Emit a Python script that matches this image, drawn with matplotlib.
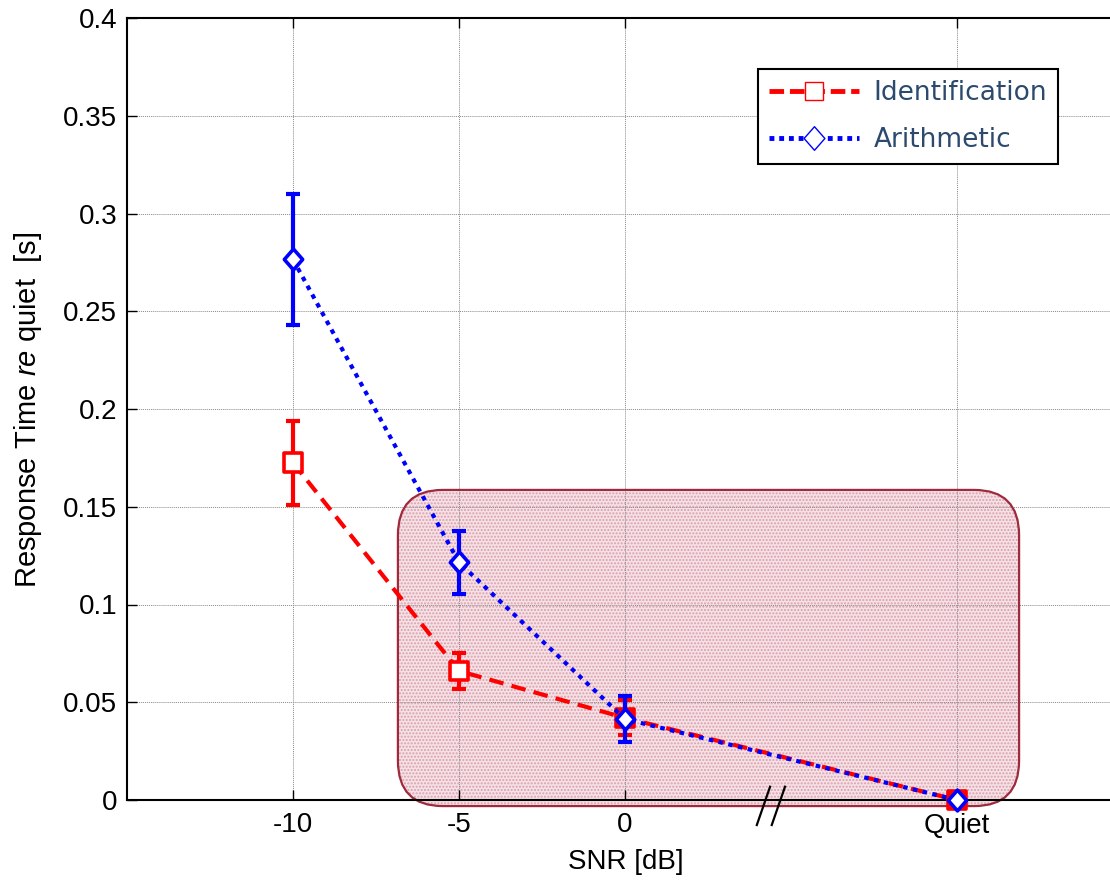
import matplotlib
matplotlib.use('Agg')
import matplotlib.pyplot as plt
import numpy as np
from matplotlib.patches import FancyBboxPatch
from matplotlib.lines import Line2D
from matplotlib.path import Path

# ---------------- data ----------------
snr_pos = [-10, -5, 0, 10]
snr_labels = ['-10', '-5', '0', 'Quiet']
ident_mean = [0.1725, 0.066, 0.042, 0.0]
ident_err = [0.0215, 0.009, 0.009, 0.0]
arith_mean = [0.2765, 0.1215, 0.0414, 0.0]
arith_err = [0.0335, 0.016, 0.0118, 0.0]
ytick_vals = [0, 0.05, 0.1, 0.15, 0.2, 0.25, 0.3, 0.35, 0.4]
ytick_labels = ['0', '0.05', '0.1', '0.15', '0.2', '0.25', '0.3', '0.35', '0.4']
series_names = ['Identification', 'Arithmetic']
ident_fill = ['white', 'white', 'red', 'red']

# ---------------- style ----------------
plt.rcParams['font.family'] = ['Liberation Sans', 'DejaVu Sans']
plt.rcParams['mathtext.fontset'] = 'custom'
plt.rcParams['mathtext.rm'] = 'Liberation Sans'
plt.rcParams['mathtext.it'] = 'Liberation Sans:italic'
plt.rcParams['hatch.linewidth'] = 1.0

W, H = 1110, 882
fig = plt.figure(figsize=(W / 100, H / 100), dpi=100)
ax = fig.add_axes([127 / W, 82 / H, 996 / W, 782 / H])
ax.set_xlim(-15, 15)
ax.set_ylim(0, 0.4)

ax.set_xticks(snr_pos)
ax.set_xticklabels(snr_labels)
ax.set_yticks(ytick_vals)
ax.set_yticklabels(ytick_labels)
ax.tick_params(direction='in', length=7, width=1.0, labelsize=20, pad=7,
               top=True, right=True, colors='black')
ax.tick_params(axis='x', pad=9)
for sp in ax.spines.values():
    sp.set_linewidth(1.5)
ax.grid(True, color='#8a8a8a', linestyle=(0, (1, 1)), linewidth=0.7)

# highlighted rounded region (annotation)
box_x0, box_x1 = -6.84, 11.87
box_y0, box_y1 = -0.0031, 0.1586
r_x = 1.35
asp = 0.0172
fill = FancyBboxPatch((box_x0, box_y0), box_x1 - box_x0, box_y1 - box_y0,
                      boxstyle=f"round,pad=0,rounding_size={r_x}",
                      mutation_aspect=asp, facecolor='#f5e2e6',
                      edgecolor='#dc9eac', hatch='.....', linewidth=0,
                      zorder=1, clip_on=False)
ax.add_patch(fill)
edge = FancyBboxPatch((box_x0, box_y0), box_x1 - box_x0, box_y1 - box_y0,
                      boxstyle=f"round,pad=0,rounding_size={r_x}",
                      mutation_aspect=asp, facecolor='none',
                      edgecolor='#9e2a3c', linewidth=1.6,
                      zorder=1.6, clip_on=False)
ax.add_patch(edge)

# axis break marks
ax.plot([3.97, 4.37], [-0.0128, 0.0068], color='black', lw=1.6, clip_on=False, zorder=5)
ax.plot([4.42, 4.82], [-0.0128, 0.0068], color='black', lw=1.6, clip_on=False, zorder=5)

# diamond marker path (slightly tall)
diamond = Path([(0, 1), (0.88, 0), (0, -1), (-0.88, 0), (0, 1)],
               [Path.MOVETO, Path.LINETO, Path.LINETO, Path.LINETO, Path.CLOSEPOLY])

# Identification series
ax.plot(snr_pos, ident_mean, color='red', lw=3.0, linestyle=(0, (3.5, 2.0)),
        zorder=3, clip_on=False)
ax.errorbar(snr_pos, ident_mean, yerr=ident_err, fmt='none', ecolor='red',
            elinewidth=3.0, capsize=5, capthick=3.0, zorder=3.1)
ax.scatter(snr_pos, ident_mean, marker='s', s=13.5 ** 2, facecolors=ident_fill,
           edgecolors='red', linewidths=2.6, zorder=3.2, clip_on=False)

# Arithmetic series
ax.plot(snr_pos, arith_mean, color='blue', lw=3.0, linestyle=(0, (1.1, 1.3)),
        zorder=4, clip_on=False)
ax.errorbar(snr_pos, arith_mean, yerr=arith_err, fmt='none', ecolor='blue',
            elinewidth=3.0, capsize=5, capthick=3.0, zorder=4.1)
ax.scatter(snr_pos, arith_mean, marker=diamond, s=15 ** 2, facecolors='white',
           edgecolors='blue', linewidths=2.6, zorder=4.2, clip_on=False)

# labels
fig.text(28 / W, 1 - 410 / H, 'Response Time $\\mathit{re}$ quiet  [s]',
         rotation=90, ha='center', va='center', fontsize=21)
fig.text(626 / W, 1 - 862 / H, 'SNR [dB]', ha='center', va='center', fontsize=20)

# legend
h1 = Line2D([], [], color='red', lw=3.5, linestyle=(0, (3.0, 1.2)), marker='s',
            markersize=13, markerfacecolor='white', markeredgecolor='red',
            markeredgewidth=1.0)
h2 = Line2D([], [], color='blue', lw=3.5, linestyle=(0, (1.0, 1.0)), marker=diamond,
            markersize=17, markerfacecolor='white', markeredgecolor='blue',
            markeredgewidth=1.0)
leg = fig.legend([h1, h2], series_names, loc='upper left',
                 bbox_to_anchor=(758 / W, 1 - 69 / H),
                 bbox_transform=fig.transFigure,
                 prop={'family': 'DejaVu Sans', 'size': 19},
                 handlelength=3.4, handletextpad=0.55, borderpad=0.42,
                 labelspacing=0.8, fancybox=False, framealpha=1,
                 edgecolor='black', borderaxespad=0)
leg.get_frame().set_linewidth(1.5)
for t in leg.get_texts():
    t.set_color('#2b4a6e')

fig.savefig('out.png', dpi=100)
